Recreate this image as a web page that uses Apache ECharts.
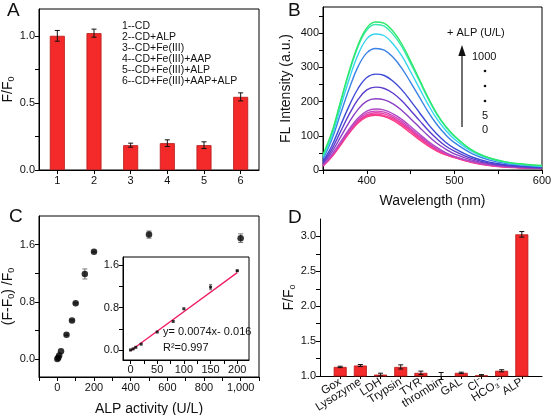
<!DOCTYPE html>
<html><head><meta charset="utf-8">
<script src="https://cdn.jsdelivr.net/npm/echarts@6/dist/echarts.min.js"></script>
<style>html,body{margin:0;padding:0;background:#fff}#c{width:553px;height:415px}</style>
</head><body><div id="c"></div>
<script>
// ---------- Panel A ----------
const aCats = ['1', '2', '3', '4', '5', '6'];
const aVals = [1.0, 1.02, 0.185, 0.2, 0.185, 0.545];
const aErr = [0.04, 0.03, 0.015, 0.025, 0.025, 0.03];
const aLegend = ['1--CD', '2--CD+ALP', '3--CD+Fe(III)', '4--CD+Fe(III)+AAP', '5--CD+Fe(III)+ALP', '6--CD+Fe(III)+AAP+ALP'];
const aYTicks = [0, 0.25, 0.5, 0.75, 1.0];
const aYLabels = [0, 0.5, 1.0];

// ---------- Panel B ----------
const bWave = [350, 360, 370, 380, 390, 400, 410, 420, 430, 440, 450, 460, 470, 480, 490, 500, 520, 540, 560, 580, 600];
const bCurve1 = [12, 38, 72, 108, 137, 155, 160, 156, 145, 128, 108, 88, 70, 55, 44, 36, 22, 13, 8, 6, 4];
const bCurve2 = [12, 40, 75, 110, 140, 158, 163, 159, 149, 133, 113, 93, 74, 58, 46, 37, 23, 14, 9, 6, 5];
const bCurve3 = [13, 41, 77, 112, 143, 161, 167, 164, 153, 137, 117, 97, 77, 60, 47, 38, 23, 14, 9, 6, 5];
const bCurve4 = [14, 43, 79, 116, 147, 166, 172, 169, 158, 142, 121, 100, 80, 62, 49, 39, 24, 15, 10, 7, 5];
const bCurve5 = [15, 45, 82, 120, 152, 172, 178, 175, 164, 148, 127, 105, 84, 66, 51, 40, 25, 15, 10, 7, 5];
const bCurve6 = [18, 52, 96, 140, 177, 201, 208, 205, 193, 174, 150, 125, 100, 78, 61, 47, 29, 18, 12, 8, 6];
const bCurve7 = [22, 60, 112, 163, 206, 234, 242, 238, 224, 202, 174, 145, 116, 91, 70, 55, 33, 20, 13, 9, 7];
const bCurve8 = [26, 70, 130, 188, 238, 270, 280, 276, 259, 234, 202, 168, 134, 105, 81, 63, 38, 23, 15, 11, 8];
const bCurve9 = [32, 88, 164, 238, 302, 342, 355, 350, 329, 297, 256, 213, 170, 133, 103, 80, 48, 29, 19, 14, 10];
const bCurve10 = [38, 98, 183, 266, 337, 383, 397, 392, 368, 333, 287, 239, 191, 149, 116, 90, 54, 33, 21, 15, 11];
const bCurve11 = [42, 106, 196, 285, 360, 409, 425, 420, 396, 360, 311, 260, 208, 162, 126, 98, 58, 35, 23, 16, 12];
const bCurve12 = [45, 110, 200, 290, 365, 415, 432, 428, 405, 368, 318, 265, 212, 165, 128, 100, 58, 35, 23, 17, 13];
const bCurves = [bCurve1, bCurve2, bCurve3, bCurve4, bCurve5, bCurve6, bCurve7, bCurve8, bCurve9, bCurve10, bCurve11, bCurve12];
const bColors = ['#ff3d84', '#f53a92', '#e83fa5', '#d046b8', '#b04ac6', '#8a3fc4', '#5c3ccc', '#3d4ad6', '#3a82e6', '#38d4f0', '#38e8b0', '#2ee86a'];
const bXTicks = [350, 400, 450, 500, 550, 600];
const bXLabels = [400, 500, 600];
const bYTicks = [0, 50, 100, 150, 200, 250, 300, 350, 400, 450];
const bYLabels = [0, 100, 200, 300, 400];

// ---------- Panel C ----------
const cX = [0, 5, 10, 20, 50, 80, 100, 150, 200, 500, 1000];
const cY = [0, 0.02, 0.05, 0.11, 0.34, 0.54, 0.78, 1.19, 1.5, 1.74, 1.69];
const cErr = [0, 0, 0, 0, 0.01, 0.01, 0.01, 0.07, 0.01, 0.05, 0.06];
const cXTicks = [-100, 0, 100, 200, 300, 400, 500, 600, 700, 800, 900, 1000, 1100];
const cXLabels = [0, 200, 400, 600, 800, 1000];
const cYTicks = [0, 0.4, 0.8, 1.2, 1.6];
const cYLabels = [0, 0.8, 1.6];
// inset
const iX = [0, 5, 10, 20, 50, 80, 100, 150, 200];
const iY = [0, 0.02, 0.05, 0.11, 0.34, 0.54, 0.78, 1.19, 1.5];
const iErr = [0, 0, 0, 0, 0, 0, 0, 0.05, 0.01];
const fitX = [0, 200];
const fitY = [-0.016, 1.464];
const iXTicks = [0, 25, 50, 75, 100, 125, 150, 175, 200];
const iXLabels = [0, 50, 100, 150, 200];
const eqText = 'y= 0.0074x- 0.016';
const r2Text = 'R\u00B2=0.997';

// ---------- Panel D ----------
const dCats = ['Gox', 'Lysozyme', 'LDH', 'Trypsin', 'TYR', 'thrombin', 'GAL', 'Cl\u207B', 'HCO\u2083\u207B', 'ALP'];
const dVals = [1.13, 1.15, 1.02, 1.13, 1.045, 1.0, 1.045, 1.01, 1.075, 3.03];
const dErr = [0.01, 0.015, 0.02, 0.03, 0.025, 0.05, 0.01, 0.01, 0.015, 0.04];
const dYTicks = [1.0, 1.25, 1.5, 1.75, 2.0, 2.25, 2.5, 2.75, 3.0];
const dYLabels = [1.0, 1.5, 2.0, 2.5, 3.0];
// axis slots: one empty slot of padding on each side of the ten categories
const dAxisData = [''].concat(dCats, ['']);

// ---------- build ----------
const FONT = '"Liberation Sans", Arial, Helvetica, sans-serif';
const TXT = '#111';
const chart = echarts.init(document.getElementById('c'));

function errRender(color, cap) {
  return function (params, api) {
    const x = api.value(0), y = api.value(1), e = api.value(2);
    if (!e) return null;
    const t = api.coord([x, y + e]), b = api.coord([x, y - e]);
    const st = { stroke: color, lineWidth: 1 };
    return { type: 'group', children: [
      { type: 'line', shape: { x1: t[0], y1: t[1], x2: b[0], y2: b[1] }, style: st },
      { type: 'line', shape: { x1: t[0] - cap, y1: t[1], x2: t[0] + cap, y2: t[1] }, style: st },
      { type: 'line', shape: { x1: b[0] - cap, y1: b[1], x2: b[0] + cap, y2: b[1] }, style: st }
    ] };
  };
}

const nameRich = {
  n: { fontSize: 14, fontFamily: FONT, color: TXT, lineHeight: 16 },
  s: { fontSize: 9, fontFamily: FONT, color: TXT, lineHeight: 5, verticalAlign: 'bottom' }
};

function valAxis(o) {
  const ax = {
    type: 'value', gridIndex: o.grid, min: o.min, max: o.max,
    axisLine: { show: true, onZero: false, lineStyle: { color: '#000', width: 1 } },
    axisTick: { show: true, length: o.tickLen || 4, inside: false, customValues: o.ticks, lineStyle: { color: '#000' } },
    axisLabel: { show: true, color: TXT, fontSize: o.fontSize || 11, fontFamily: FONT, margin: o.margin || 4,
      customValues: o.labels, formatter: o.fmt },
    splitLine: { show: false }
  };
  if (o.name) {
    ax.name = o.name; ax.nameLocation = 'middle'; ax.nameGap = o.nameGap;
    ax.nameTextStyle = { fontSize: 14, fontFamily: FONT, color: TXT, rich: nameRich };
  }
  return ax;
}

const gridBase = { show: true, borderColor: '#000', borderWidth: 1, backgroundColor: 'transparent', containLabel: false, outerBoundsMode: 'none' };

const option = {
  animation: false,
  backgroundColor: '#fff',
  textStyle: { fontFamily: FONT },
  grid: [
    Object.assign({}, gridBase, { left: 39, top: 9, width: 220, height: 161 }),
    Object.assign({}, gridBase, { left: 323, top: 7, width: 219, height: 163 }),
    Object.assign({}, gridBase, { left: 39, top: 216, width: 220, height: 161 }),
    Object.assign({}, gridBase, { left: 123, top: 257, width: 126, height: 103 }),
    Object.assign({}, gridBase, { show: false, left: 320, top: 219, width: 222, height: 157 })
  ],
  xAxis: [
    {
      type: 'category', gridIndex: 0, data: aCats, boundaryGap: true,
      axisLine: { show: true, onZero: false, lineStyle: { color: '#000' } },
      axisTick: { show: true, alignWithLabel: true, length: 4, lineStyle: { color: '#000' } },
      axisLabel: { color: TXT, fontSize: 11, fontFamily: FONT, margin: 5 },
      splitLine: { show: false }
    },
    valAxis({ grid: 1, min: 350, max: 600, ticks: bXTicks, labels: bXLabels, margin: 5,
      name: 'Wavelength (nm)', nameGap: 24 }),
    valAxis({ grid: 2, min: -100, max: 1100, ticks: cXTicks, labels: cXLabels, margin: 5,
      name: 'ALP activity (U/L)', nameGap: 25 }),
    valAxis({ grid: 3, min: -14, max: 222, ticks: iXTicks, labels: iXLabels, margin: 4 }),
    {
      type: 'category', gridIndex: 4, data: dAxisData, boundaryGap: false,
      axisLine: { show: true, onZero: false, lineStyle: { color: '#000' } },
      axisTick: { show: true, length: 3, interval: i => i > 0 && i <= dCats.length, lineStyle: { color: '#000' } },
      axisLabel: { color: TXT, fontSize: 11.5, fontFamily: FONT, margin: 5, rotate: 32, interval: 0 },
      splitLine: { show: false }
    }
  ],
  yAxis: [
    valAxis({ grid: 0, min: 0, max: 1.2, ticks: aYTicks, labels: aYLabels, fmt: v => v.toFixed(1),
      name: '{n|F/F}{s|0}', nameGap: 22 }),
    valAxis({ grid: 1, min: 0, max: 476, ticks: bYTicks, labels: bYLabels,
      name: 'FL Intensity (a.u.)', nameGap: 30 }),
    valAxis({ grid: 2, min: -0.25, max: 2.0, ticks: cYTicks, labels: cYLabels, fmt: v => v.toFixed(1),
      name: '{n|(F-F}{s|0}{n|) /F}{s|0}', nameGap: 23 }),
    valAxis({ grid: 3, min: -0.19, max: 1.76, ticks: cYTicks, labels: cYLabels, fmt: v => v.toFixed(1) }),
    valAxis({ grid: 4, min: 1.0, max: 3.25, ticks: dYTicks, labels: dYLabels, fmt: v => v.toFixed(1),
      name: '{n|F/F}{s|o}', nameGap: 22 })
  ],
  series: [],
  graphic: []
};

// A bars + errors
option.series.push({
  type: 'bar', xAxisIndex: 0, yAxisIndex: 0, data: aVals, barWidth: 15,
  itemStyle: { color: '#f42a2a', borderColor: '#b81818', borderWidth: 0.8 }
});
option.series.push({
  type: 'custom', xAxisIndex: 0, yAxisIndex: 0, z: 5,
  data: aVals.map((v, i) => [i, v, aErr[i]]), renderItem: errRender('#111', 2.5)
});

// B spectra
bCurves.forEach((c, k) => {
  option.series.push({
    type: 'line', xAxisIndex: 1, yAxisIndex: 1, smooth: 0.4, showSymbol: false, symbol: 'none',
    data: bWave.map((w, i) => [w, c[i]]),
    lineStyle: { color: bColors[k], width: 1.4 }, z: 2 + k
  });
});

// C main scatter + errors
option.series.push({
  type: 'custom', xAxisIndex: 2, yAxisIndex: 2, z: 3,
  data: cX.map((x, i) => [x, cY[i], cErr[i]]), renderItem: errRender('#777', 2.5)
});
option.series.push({
  type: 'scatter', xAxisIndex: 2, yAxisIndex: 2, symbolSize: 6.5, z: 4,
  data: cX.map((x, i) => [x, cY[i]]), itemStyle: { color: '#000' }
});
// inset
option.series.push({
  type: 'line', xAxisIndex: 3, yAxisIndex: 3, showSymbol: false, symbol: 'none', z: 5,
  data: fitX.map((x, i) => [x, fitY[i]]), lineStyle: { color: '#f01e62', width: 1.3 }
});
option.series.push({
  type: 'custom', xAxisIndex: 3, yAxisIndex: 3, z: 6,
  data: iX.map((x, i) => [x, iY[i], iErr[i]]), renderItem: errRender('#777', 1.5)
});
option.series.push({
  type: 'scatter', xAxisIndex: 3, yAxisIndex: 3, symbol: 'rect', symbolSize: 3, z: 7,
  data: iX.map((x, i) => [x, iY[i]]), itemStyle: { color: '#000' }
});

// D bars + errors (category slot i+1)
option.series.push({
  type: 'bar', xAxisIndex: 4, yAxisIndex: 4, barWidth: 13,
  data: dVals.map((v, i) => [i + 1, v]),
  itemStyle: { color: '#f42a2a', borderColor: '#b81818', borderWidth: 0.8 }
});
option.series.push({
  type: 'custom', xAxisIndex: 4, yAxisIndex: 4, z: 5,
  data: dVals.map((v, i) => [i + 1, v, dErr[i]]), renderItem: errRender('#111', 2.5)
});

// ---------- annotations ----------
const G = option.graphic;
const letter = (t, x, y) => G.push({ type: 'text', left: x, top: y, style: { text: t, fontSize: 19, fontFamily: FONT, fill: '#111' } });
letter('A', 7, 1); letter('B', 288, 1); letter('C', 9, 207); letter('D', 288, 208);

aLegend.forEach((t, i) => G.push({ type: 'text', x: 122, y: 26 + i * 11,
  style: { text: t, fontSize: 10.5, fontFamily: FONT, fill: '#111', verticalAlign: 'middle', align: 'left' } }));

G.push({ type: 'text', x: 447, y: 33, style: { text: '+ ALP (U/L)', fontSize: 11, fontFamily: FONT, fill: '#111', verticalAlign: 'middle' } });
G.push({ type: 'text', x: 472, y: 57, style: { text: '1000', fontSize: 11, fontFamily: FONT, fill: '#111', verticalAlign: 'middle' } });
[71, 86, 101].forEach(y => G.push({ type: 'circle', shape: { cx: 485, cy: y, r: 1.3 }, style: { fill: '#111' } }));
G.push({ type: 'text', x: 485, y: 116, style: { text: '5', fontSize: 11, fontFamily: FONT, fill: '#111', verticalAlign: 'middle', align: 'center' } });
G.push({ type: 'text', x: 485, y: 130, style: { text: '0', fontSize: 11, fontFamily: FONT, fill: '#111', verticalAlign: 'middle', align: 'center' } });
G.push({ type: 'line', shape: { x1: 462, y1: 127, x2: 462, y2: 54 }, style: { stroke: '#111', lineWidth: 1.2 } });
G.push({ type: 'polygon', shape: { points: [[462, 45], [458.3, 56], [465.7, 56]] }, style: { fill: '#111' } });

G.push({ type: 'text', x: 163, y: 332, style: { text: eqText, fontSize: 11, fontFamily: FONT, fill: '#111', verticalAlign: 'middle' } });
G.push({ type: 'text', x: 163, y: 348, style: { text: r2Text, fontSize: 11, fontFamily: FONT, fill: '#111', verticalAlign: 'middle' } });

chart.setOption(option);
</script>
</body></html>
